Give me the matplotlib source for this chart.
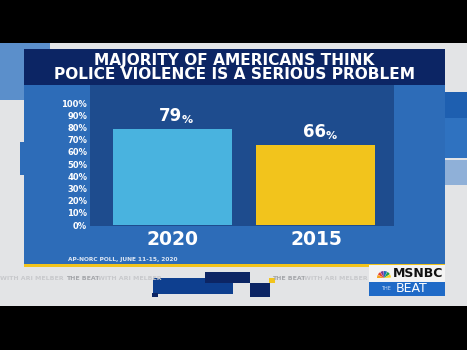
import matplotlib.pyplot as plt
from matplotlib.patches import Rectangle, Wedge

## DATA ########################################################################
years = ['2020', '2015']
values = [79, 66]
bar_colors = ['#49b3df', '#f2c41c']
y_ticks = [0, 10, 20, 30, 40, 50, 60, 70, 80, 90, 100]
title = 'MAJORITY OF AMERICANS THINK\nPOLICE VIOLENCE IS A SERIOUS PROBLEM'
source = 'AP-NORC POLL, JUNE 11-15, 2020'

W, H = 467, 350
fig = plt.figure(figsize=(W / 100, H / 100), dpi=100)

## BACKGROUND (screen frame, pixel coords) ####################################
bg = fig.add_axes([0, 0, 1, 1])
bg.set_xlim(0, W)
bg.set_ylim(H, 0)
bg.axis('off')

def box(x0, y0, x1, y1, color, z=0):
    bg.add_patch(Rectangle((x0, y0), x1 - x0, y1 - y0, color=color, lw=0, zorder=z))

box(0, 0, W, H, '#000000')
box(0, 43, W, 306, '#e3e4e6')
box(0, 43, 50, 100, '#5b8fcb', 1)
box(20, 142, 50, 175, '#2d6cb8', 1)
box(445, 92, 467, 118, '#1e5fb0', 1)
box(420, 118, 467, 158, '#2f72c0', 1)
box(445, 160, 467, 185, '#8fb0d8', 1)
# panel
box(24, 49, 445, 266, '#2d6cb8', 2)
box(24, 264, 445, 267, '#f2c41c', 3)
box(24, 49, 445, 85, '#0c2564', 3)
box(90, 85, 394, 226, '#1e4c8e', 3)
# lower strap
box(153, 278, 233, 294, '#0e3f8f', 2)
box(205, 272, 250, 283, '#0c2564', 3)
box(250, 283, 270, 297, '#0c2564', 3)
box(152, 293, 158, 297, '#0c2564', 3)
box(269, 278, 275, 283, '#f2c41c', 3)
box(369, 282, 445, 296, '#1f6ac7', 3)
box(369, 265, 445, 282, '#f4f4f4', 3)
for x0, label, col in [(0, 'WITH ARI MELBER', '#c8c9cc'), (66, 'THE BEAT', '#a4a6aa'),
                       (98, 'WITH ARI MELBER', '#c8c9cc'), (272, 'THE BEAT', '#a4a6aa'),
                       (304, 'WITH ARI MELBER', '#c8c9cc')]:
    bg.text(x0, 279, label, color=col, fontsize=4.5, fontweight='bold',
            va='center', zorder=4)
bg.text(443, 273.5, 'MSNBC', color='#111111', fontsize=9, fontweight='bold',
        ha='right', va='center', zorder=5)
bg.text(386, 289, 'THE', color='#cfe0f5', fontsize=3.5, ha='center',
        va='center', zorder=5)
bg.text(412, 289, 'BEAT', color='white', fontsize=9, ha='center',
        va='center', zorder=5)
# peacock
for i, c in enumerate(['#f6a21d', '#e8412c', '#7c3a93', '#1c6fb8', '#1fa24a', '#f6d31d']):
    bg.add_patch(Wedge((384, 278), 7, 180 + i * 30, 180 + (i + 1) * 30 - 4,
                       color=c, lw=0, zorder=5))

bg.text(234.5, 67.5, title, color='white', fontsize=11.1, fontweight='bold',
        ha='center', va='center', linespacing=0.95, zorder=5)
bg.text(68, 260, source, color='#dfe8f4', fontsize=4.2, fontweight='bold',
        va='center', zorder=5)

## BAR CHART ##################################################################
# axes box = dark plot area (x 90..394, y 85..226 px)
ax = fig.add_axes([90 / W, 1 - 226 / H, 304 / W, 141 / H])
ax.set_facecolor('none')
x = range(len(years))
ax.bar(x, values, width=0.83, color=bar_colors, zorder=2)
ax.set_xlim(-0.575, 1.544)
ax.set_ylim(-0.8, 114.8)
for xi, v in zip(x, values):
    ax.text(xi + 0.07, v + 3, str(v), color='white', fontsize=12,
            fontweight='bold', ha='right', va='bottom')
    ax.text(xi + 0.064, v + 3, '%', color='white', fontsize=8,
            fontweight='bold', ha='left', va='bottom')
ax.set_yticks(y_ticks)
ax.set_yticklabels([f'{t}%' for t in y_ticks])
ax.set_xticks(list(x))
ax.set_xticklabels(years)
ax.tick_params(axis='y', length=0, pad=2, labelsize=6, labelcolor='white')
ax.tick_params(axis='x', length=0, pad=3, labelsize=13.5, labelcolor='white')
for lbl in ax.get_yticklabels() + ax.get_xticklabels():
    lbl.set_fontweight('bold')
for s in ax.spines.values():
    s.set_visible(False)

fig.savefig('out.png', dpi=100)
